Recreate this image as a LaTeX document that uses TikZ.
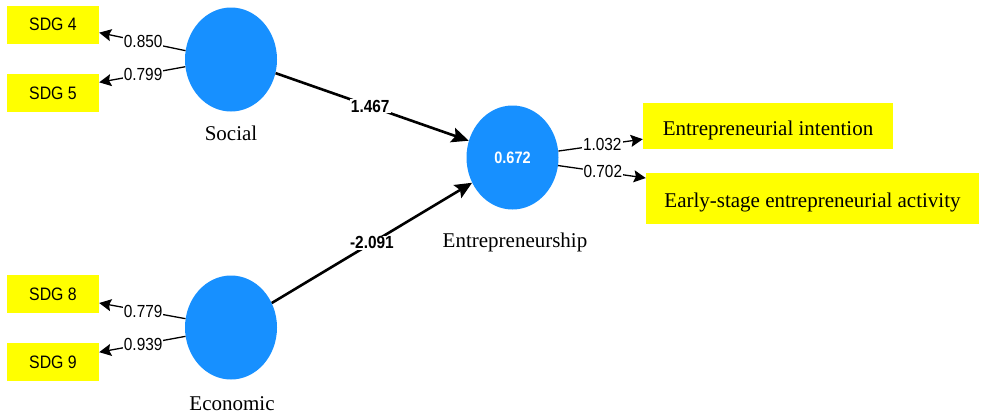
\documentclass[tikz,border=0pt]{standalone}
\usepackage{fontspec}
\setmainfont{Liberation Serif}
\newfontfamily\nsans[FakeStretch=0.88]{Liberation Sans}
\usetikzlibrary{arrows.meta,shapes.geometric}
\definecolor{lvblue}{RGB}{23,144,255}
\definecolor{boxyellow}{RGB}{255,255,0}
\begin{document}
\begin{tikzpicture}[x=1pt,y=-1pt,
  latent/.style={ellipse, fill=lvblue, minimum width=92pt, minimum height=104pt, inner sep=0pt,
    text=white, font=\nsans\bfseries\fontsize{16.5}{19}\selectfont},
  sdg/.style={rectangle, fill=boxyellow, minimum width=92pt, minimum height=38pt, inner sep=0pt,
    font=\nsans\fontsize{18}{20}\selectfont},
  ind/.style={rectangle, fill=boxyellow, inner sep=0pt, font=\fontsize{21}{24}\selectfont,
    text height=18pt, text depth=0pt},
  lvname/.style={font=\fontsize{21}{24}\selectfont, anchor=base, inner sep=0pt},
  load/.style={line width=1.3pt, -{Stealth[length=12pt,width=12pt,inset=2pt]}},
  pathline/.style={line width=2.6pt, -{Stealth[length=17pt,width=15pt,inset=3pt]}},
  ldlab/.style={fill=white, inner sep=1pt, font=\nsans\fontsize{17.5}{19}\selectfont},
  pclab/.style={fill=white, inner sep=1pt, font=\nsans\bfseries\fontsize{17.5}{19}\selectfont}]
\useasboundingbox (0,0) rectangle (981,415);

% latent variables
\node[latent] (soc) at (231,59.5) {};
\node[latent] (eco) at (231,327.5) {};
\node[latent] (ent) at (512.5,157.5) {0.672};

\node[lvname] (socl) at (231,140) {Social};
\node[lvname] (ecol) at (232,410) {Economic};
\node[lvname] (entl) at (515,247) {Entrepreneurship};

% indicators
\node[sdg] (s4) at (53,24.5) {SDG 4};
\node[sdg] (s5) at (53,93) {SDG 5};
\node[sdg] (s8) at (53,294) {SDG 8};
\node[sdg] (s9) at (53,362) {SDG 9};
\node[ind, minimum width=250pt, minimum height=46pt] (ei) at (768,126) {Entrepreneurial intention};
\node[ind, minimum width=333pt, minimum height=51pt] (es) at (812.5,198.5) {Early-stage entrepreneurial activity};

% loadings
\draw[load] (soc.169.5) -- node[ldlab, pos=0.49] {0.850} (s4.-10.5);
\draw[load] (soc.189.3) -- node[ldlab, pos=0.49] {0.799} (s5.13.4);
\draw[load] (eco.169.5) -- node[ldlab, pos=0.49] {0.779} (s8.-11);
\draw[load] (eco.191.7) -- node[ldlab, pos=0.49] {0.939} (s9.12.3);
\draw[load] (ent.8.1) -- node[ldlab, pos=0.52] {1.032} (ei.186.4);
\draw[load] (ent.-10.6) -- node[ldlab, pos=0.51] {0.702} (es.173.5);

% path coefficients
\draw[pathline] (soc.-17.5) -- node[pclab, pos=0.49] {1.467} (ent.159.8);
\draw[pathline] (eco.31.9) -- node[pclab, pos=0.5] {-2.091} (ent.212.8);
\end{tikzpicture}
\end{document}
